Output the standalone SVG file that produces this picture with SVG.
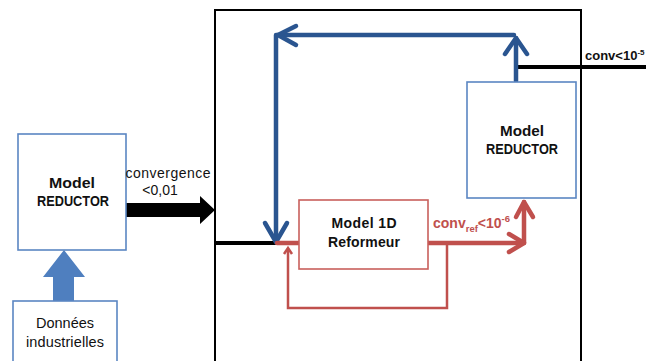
<svg xmlns="http://www.w3.org/2000/svg" width="646" height="361" viewBox="0 0 646 361">
<style>
.bx{fill:#fff;stroke:#5b86c2;stroke-width:1.6}
.rbx{fill:#fff;stroke:#c9605c;stroke-width:1.6}
.t{font-family:"Liberation Sans",Arial,sans-serif;fill:#111;text-anchor:middle}
.b{font-weight:bold}
.blue{fill:none;stroke:#2a5590;stroke-width:4.5;stroke-linecap:round;stroke-linejoin:round}
.red{fill:none;stroke:#c0504d;stroke-width:4.5;stroke-linecap:round;stroke-linejoin:round}
.redthin{fill:none;stroke:#c0504d;stroke-width:2.5}
.blk{fill:none;stroke:#000;stroke-width:4}
</style>
<rect width="646" height="361" fill="#fff"/>
<g id="frame"><rect x="215" y="10" width="366" height="360" fill="none" stroke="#000" stroke-width="2"/></g>
<g id="connectors">
<path d="M53,301 V277 H43 L64,250 L85,277 H74 V301 Z" fill="#4f7fbf"/>
<path d="M126,203 H200 V196 L215,210 L200,224 V217 H126 Z" fill="#000"/>
<line class="blk" x1="215" y1="243" x2="276" y2="243" stroke-width="3.5"/>
<line class="blk" x1="516" y1="67" x2="646" y2="67"/>
<polyline class="blue" points="276,241 276,35 514,35"/>
<line class="blue" x1="516" y1="81" x2="516" y2="38"/>
<polyline class="blue" points="265,223 276,242 287,223"/>
<polyline class="blue" points="296,26 278,35 296,45"/>
<polyline class="blue" points="505,54 516,38 527,54"/>
<line class="red" x1="277" y1="243" x2="299" y2="243" stroke-linecap="butt"/>
<polyline class="red" points="428,243 524,243 524,202"/>
<polyline class="red" points="509,234 524,243 509,252"/>
<polyline class="red" points="516,217 524,202 533,217"/>
<polyline class="redthin" points="447,243 447,308 288,308 288,249"/>
<polyline class="redthin" points="284,254 288,248 292,254"/>
</g>
<g id="reductor-left"><rect class="bx" x="18" y="134" width="108" height="116"/>
<text class="t b" x="72" y="188" font-size="14" textLength="46" lengthAdjust="spacingAndGlyphs">Model</text>
<text class="t b" x="73" y="206" font-size="14" textLength="72" lengthAdjust="spacingAndGlyphs">REDUCTOR</text></g>
<g id="donnees"><rect class="bx" x="13" y="301" width="104" height="70"/>
<text class="t" x="65" y="328" font-size="14.5">Données</text>
<text class="t" x="65" y="347" font-size="14.5" textLength="78">industrielles</text></g>
<g id="label-conv1"><text class="t" x="168" y="178" font-size="14" textLength="85">convergence</text>
<text class="t" x="160" y="195" font-size="14">&lt;0,01</text></g>
<g id="reformeur"><rect class="rbx" x="299" y="200" width="129" height="69"/>
<text class="t b" x="364" y="228" font-size="14" textLength="65">Model 1D</text>
<text class="t b" x="364" y="247" font-size="14" textLength="72">Reformeur</text></g>
<g id="reductor-right"><rect class="bx" x="467" y="82" width="109" height="116"/>
<text class="t b" x="522" y="136" font-size="14" textLength="44" lengthAdjust="spacingAndGlyphs">Model</text>
<text class="t b" x="522" y="154" font-size="14" textLength="72" lengthAdjust="spacingAndGlyphs">REDUCTOR</text></g>
<g id="label-convref"><text x="433" y="228" font-family="Liberation Sans,Arial,sans-serif" font-weight="bold" font-size="14" fill="#c0504d">conv<tspan font-size="9.5" dy="4">ref</tspan><tspan dy="-4">&lt;10</tspan><tspan font-size="9.5" dy="-6">-6</tspan></text></g>
<g id="label-conv2"><text x="585" y="60" font-family="Liberation Sans,Arial,sans-serif" font-weight="bold" font-size="13" fill="#111">conv&lt;10<tspan font-size="8" dy="-5">-5</tspan></text></g>
</svg>
